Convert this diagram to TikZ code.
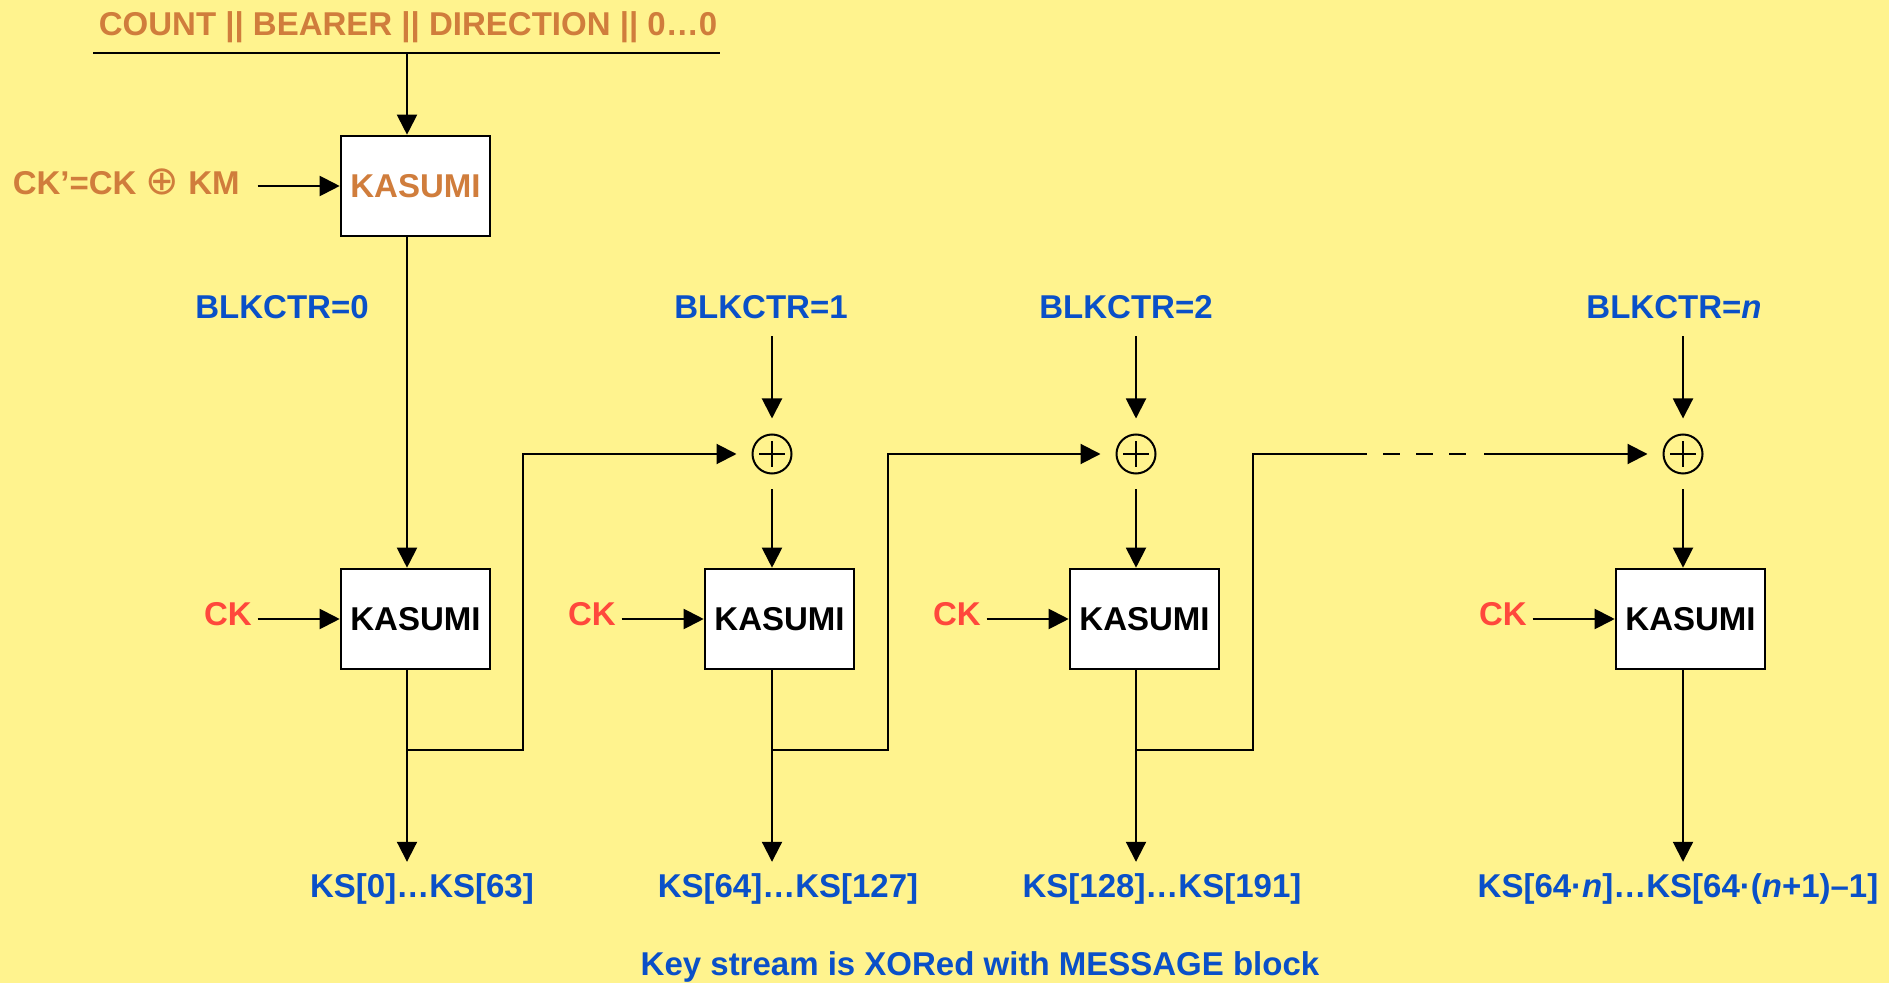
\documentclass[tikz,border=0pt]{standalone}
\usepackage{fontspec}
\setmainfont{Liberation Sans}
\newfontfamily\symfont{DejaVu Sans}
\usetikzlibrary{arrows.meta, positioning}

\definecolor{bgyellow}{RGB}{255,243,142}
\definecolor{keyorange}{RGB}{208,125,60}
\definecolor{ctrblue}{RGB}{10,80,200}
\definecolor{ckred}{RGB}{255,72,60}

\begin{document}
\begin{tikzpicture}[
    x=0.5pt, y=-0.5pt,
    line width=1pt,
    font=\bfseries\fontsize{16.5}{18}\selectfont,
    lbl/.style={inner sep=0pt, text height=0.72em, text depth=0pt},
    kasumi/.style={draw, line width=1.3pt, fill=white, minimum width=74.5pt, minimum height=50pt, inner sep=0pt},
    xor/.style={circle, draw, minimum size=19.5pt, inner sep=0pt, outer sep=8pt,
        path picture={
            \draw[line width=1.2pt] ([xshift=-6.5pt]path picture bounding box.center) -- ([xshift=6.5pt]path picture bounding box.center);
            \draw[line width=1.2pt] ([yshift=-6.5pt]path picture bounding box.center) -- ([yshift=6.5pt]path picture bounding box.center);
        }},
    cklbl/.style={lbl, text=ckred, outer xsep=3pt},
    ctrlbl/.style={lbl, text=ctrblue, outer ysep=9pt},
    kslbl/.style={lbl, text=ctrblue, outer ysep=10.5pt},
    arrow/.style={-{Triangle[length=10pt, width=10pt]}}
]
\useasboundingbox[fill=bgyellow] (0,0) rectangle (1889,983);

% key setup
\node[lbl, text=keyorange] (title) at (408,28) {COUNT || BEARER || DIRECTION || 0…0};
\coordinate (barL) at (93,53);
\coordinate (barR) at (720,53);
\coordinate (bar) at (407,53);
\node[kasumi, text=keyorange] (kinit) at (415.5,186) {KASUMI};
\node[lbl, text=keyorange, outer xsep=9pt, left=41pt of kinit, yshift=-0.5pt] (ckkm) {CK’=CK {\symfont\mdseries\fontsize{20}{20}\selectfont ⊕} KM};

% KASUMI row
\node[kasumi] (k0) at (415.5,619) {KASUMI};
\node[kasumi] (k1) at (779.5,619) {KASUMI};
\node[kasumi] (k2) at (1144.5,619) {KASUMI};
\node[kasumi] (kn) at (1690.5,619) {KASUMI};
\node[cklbl, left=41pt of k0, yshift=0.5pt] (ck0) {CK};
\node[cklbl, left=41pt of k1, yshift=0.5pt] (ck1) {CK};
\node[cklbl, left=41pt of k2, yshift=0.5pt] (ck2) {CK};
\node[cklbl, left=41pt of kn, yshift=0.5pt] (ckn) {CK};

% counters
\node[xor] (x1) at (772,454) {};
\node[xor] (x2) at (1136,454) {};
\node[xor] (xn) at (1683,454) {};
\node[ctrlbl] (ctr0) at (282,311) {BLKCTR=0};
\node[ctrlbl] (ctr1) at (761,311) {BLKCTR=1};
\node[ctrlbl] (ctr2) at (1126,311) {BLKCTR=2};
\node[ctrlbl] (ctrn) at (1674,311) {BLKCTR=\textit{n}};

% key stream blocks
\node[kslbl] (ks0) at (422,890) {KS[0]…KS[63]};
\node[kslbl] (ks1) at (788,890) {KS[64]…KS[127]};
\node[kslbl] (ks2) at (1162,890) {KS[128]…KS[191]};
\node[kslbl] (ksn) at (1678,890) {KS[64·\textit{n}]…KS[64·(\textit{n}+1)–1]};
\node[lbl, text=ctrblue] (note) at (980,968) {Key stream is XORed with MESSAGE block};

\coordinate (t0) at (407,750);
\coordinate (t1) at (772,750);
\coordinate (t2) at (1136,750);
\coordinate (gapL) at (1367,454);
\coordinate (gapR) at (1484,454);

\draw (barL) -- (barR);
\draw[arrow] (bar) -- (bar |- kinit.north);
\draw[arrow] (ckkm.east |- kinit) -- (kinit.west);
\draw[arrow] (kinit.south -| bar) -- (k0.north -| bar);

\draw[arrow] (ck0.east |- k0) -- (k0.west);
\draw[arrow] (ck1.east |- k1) -- (k1.west);
\draw[arrow] (ck2.east |- k2) -- (k2.west);
\draw[arrow] (ckn.east |- kn) -- (kn.west);

\draw[arrow] (ctr1.south -| x1) -- (x1);
\draw[arrow] (ctr2.south -| x2) -- (x2);
\draw[arrow] (ctrn.south -| xn) -- (xn);
\draw[arrow] (x1) -- (x1 |- k1.north);
\draw[arrow] (x2) -- (x2 |- k2.north);
\draw[arrow] (xn) -- (xn |- kn.north);

\draw[arrow] (k0.south -| t0) -- (ks0.north -| t0);
\draw[arrow] (k1.south -| t1) -- (ks1.north -| t1);
\draw[arrow] (k2.south -| t2) -- (ks2.north -| t2);
\draw[arrow] (kn.south -| xn) -- (ksn.north -| xn);

% feedback
\draw[arrow] (t0) -- ++(116,0) |- (x1);
\draw[arrow] (t1) -- ++(116,0) |- (x2);
\draw (t2) -- ++(117,0) |- (gapL);
\draw[dash pattern=on 8.5pt off 8pt, shorten <=8pt, shorten >=8pt] (gapL) -- (gapR);
\draw[arrow] (gapR) -- (xn);
\end{tikzpicture}
\end{document}
